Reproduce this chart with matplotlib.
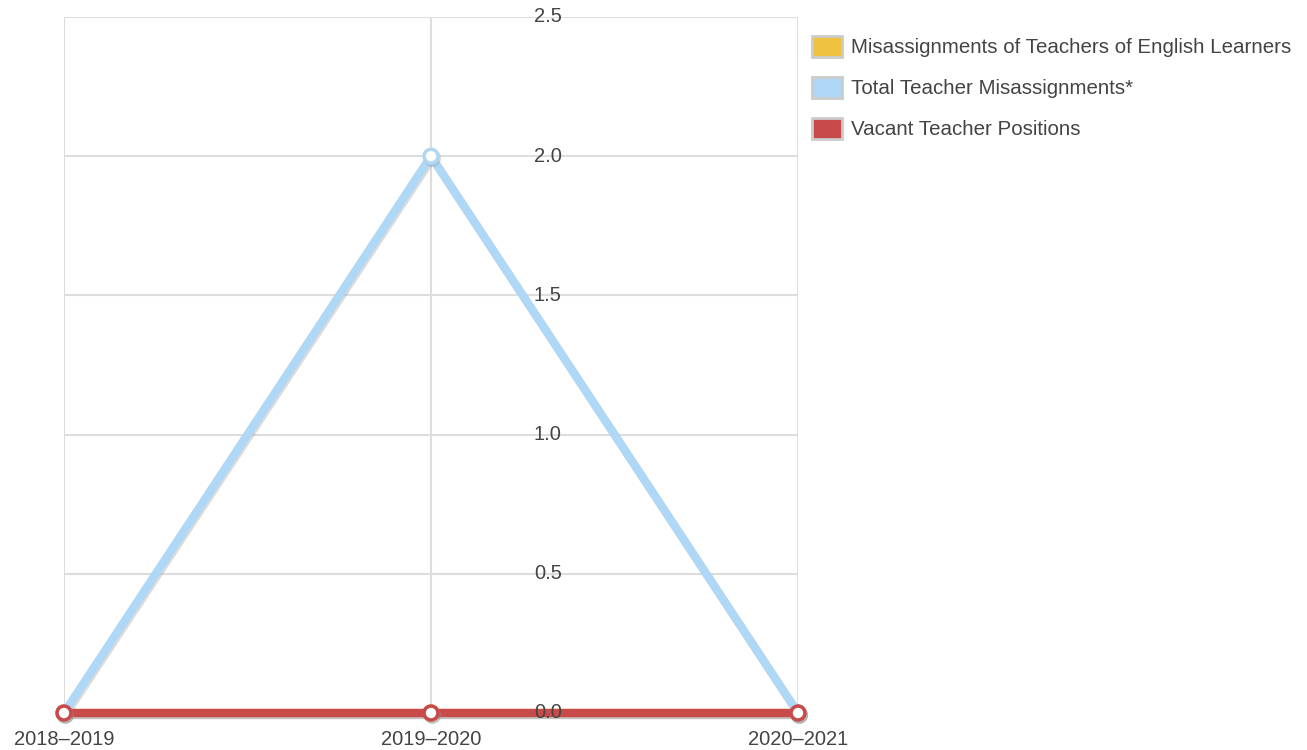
import matplotlib
matplotlib.use('Agg')
import matplotlib.pyplot as plt
import matplotlib.patches as mpatches
import matplotlib.patheffects as pe

# Data
years = ['2018–2019', '2019–2020', '2020–2021']
el_misassign = [0, 0, 0]
total_misassign = [0, 2, 0]
vacant = [0, 0, 0]

labels = ['Misassignments of Teachers of English Learners',
          'Total Teacher Misassignments*',
          'Vacant Teacher Positions']
colors = ['#EFC23F', '#AFD7F6', '#C94A4A']
y_ticks = [0.0, 0.5, 1.0, 1.5, 2.0, 2.5]

plt.rcParams['font.family'] = ['Liberation Sans', 'DejaVu Sans']
text_color = '#444444'
grid_color = '#dddddd'

fig = plt.figure(figsize=(13.07, 7.5), dpi=100)
ax = fig.add_axes([64 / 1307, 1 - 713 / 750, (798 - 64) / 1307, (713 - 17) / 750])

x = list(range(len(years)))
shadow = [pe.SimpleLineShadow(offset=(1, -1.5), shadow_color='#999999', alpha=0.35), pe.Normal()]

for ys, c, z in zip([el_misassign, total_misassign, vacant], colors, [3, 4, 5]):
    ax.plot(x, ys, color=c, linewidth=6, marker='o', markersize=10,
            markerfacecolor='white', markeredgecolor=c, markeredgewidth=2.5,
            clip_on=False, zorder=z, path_effects=shadow, solid_capstyle='round')

ax.set_xlim(0, len(years) - 1)
ax.set_ylim(0, 2.5)

# grid
for yt in y_ticks:
    ax.axhline(yt, color=grid_color, linewidth=1.5, zorder=1)
for xi in x:
    ax.axvline(xi, color=grid_color, linewidth=1.5, zorder=1)

for s in ax.spines.values():
    s.set_visible(False)

ax.set_xticks(x)
ax.set_xticklabels(years, fontsize=14.5, color=text_color)
ax.tick_params(axis='x', length=0, pad=12)
ax.set_yticks([])

# y labels drawn in the middle of the plot
for yt in y_ticks:
    ax.text(0.678, yt, f'{yt:.1f}', transform=ax.get_yaxis_transform(),
            ha='right', va='center', fontsize=14.5, color=text_color, zorder=6)

handles = [mpatches.Patch(facecolor=c, edgecolor='#cccccc', linewidth=2) for c in colors]
fig.legend(handles, labels, loc='upper left', bbox_to_anchor=(793 / 1307, 1 - 17 / 750),
           frameon=False, fontsize=14.8, labelcolor=text_color,
           handlelength=1.5, handleheight=1.2, handletextpad=0.4, labelspacing=0.95)

fig.savefig('out.png', dpi=100)
